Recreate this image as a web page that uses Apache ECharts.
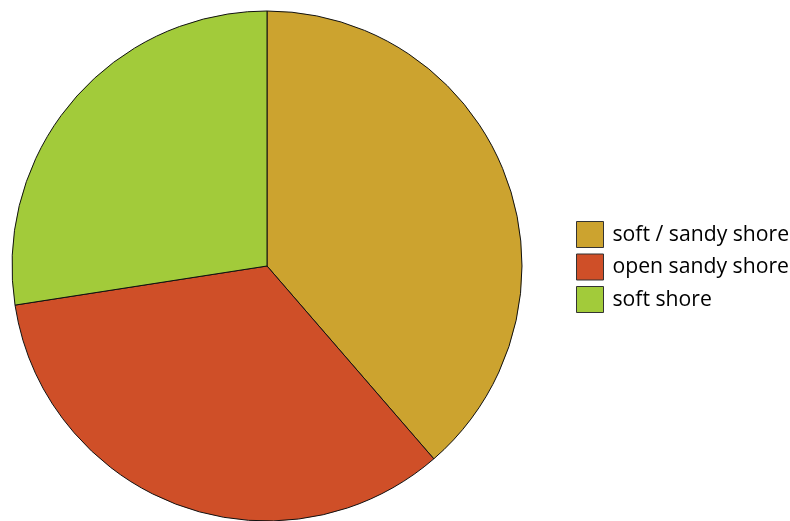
<!DOCTYPE html>
<html>
<head>
  <meta charset="utf-8" />
  <title>shore types</title>
  <script src="https://cdn.jsdelivr.net/npm/echarts@6/dist/echarts.min.js"></script>
  <style>
    html, body { margin: 0; padding: 0; background: #fff; }
    #main { width: 790px; height: 521px; }
  </style>
</head>
<body>
  <div id="main"></div>
  <script>
    // data
    var shoreNames = ["soft / sandy shore", "open sandy shore", "soft shore"];
    var shoreValues = [38.65, 33.9, 27.45];
    var shoreColors = ["#CCA32F", "#CF4F28", "#A2CB3A"];

    var chart = echarts.init(document.getElementById("main"));
    var pieData = shoreNames.map(function (n, i) {
      return { name: n, value: shoreValues[i], itemStyle: { color: shoreColors[i] } };
    });

    var option = {
      backgroundColor: "#fff",
      animation: false,
      legend: {
        orient: "vertical",
        left: 576,
        top: 221,
        padding: 0,
        icon: "rect",
        itemWidth: 27,
        itemHeight: 26,
        itemGap: 5.5,
        textStyle: {
          fontFamily: "Open Sans", fontSize: 21.2, color: "#000",
          lineHeight: 26, padding: [0, 0, 0, 4]
        },
        itemStyle: { borderColor: "#333", borderWidth: 1 },
        data: shoreNames
      },
      series: [{
        type: "pie",
        center: [267, 266],
        radius: 255,
        startAngle: 90,
        clockwise: true,
        label: { show: false },
        labelLine: { show: false },
        emphasis: { disabled: true },
        itemStyle: { borderColor: "#111", borderWidth: 1 },
        data: pieData
      }]
    };
    chart.setOption(option);
  </script>
</body>
</html>
